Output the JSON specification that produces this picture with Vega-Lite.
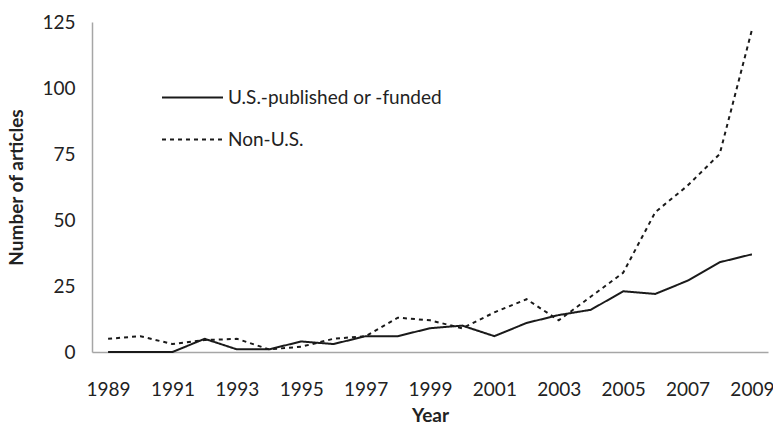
{
  "$schema": "https://vega.github.io/schema/vega-lite/v6.json",
  "autosize": "none",
  "width": 676,
  "height": 330,
  "padding": {"left": 92, "top": 22, "right": 5, "bottom": 72},
  "background": "white",
  "config": {
    "view": {"stroke": null},
    "font": "Lato",
    "axis": {"grid": false, "ticks": false, "domainColor": "#a6a6a6", "domainWidth": 1.5, "labelFont": "Lato", "labelFontSize": 19, "labelColor": "#222", "titleFont": "Lato", "titleFontSize": 19, "titleColor": "#222", "titleFontWeight": "bold"}
  },
  "data": {
    "values": [
      {"year": 1989, "series": "U.S.-published or -funded", "value": 0},
      {"year": 1990, "series": "U.S.-published or -funded", "value": 0},
      {"year": 1991, "series": "U.S.-published or -funded", "value": 0},
      {"year": 1992, "series": "U.S.-published or -funded", "value": 5},
      {"year": 1993, "series": "U.S.-published or -funded", "value": 1},
      {"year": 1994, "series": "U.S.-published or -funded", "value": 1},
      {"year": 1995, "series": "U.S.-published or -funded", "value": 4},
      {"year": 1996, "series": "U.S.-published or -funded", "value": 3},
      {"year": 1997, "series": "U.S.-published or -funded", "value": 6},
      {"year": 1998, "series": "U.S.-published or -funded", "value": 6},
      {"year": 1999, "series": "U.S.-published or -funded", "value": 9},
      {"year": 2000, "series": "U.S.-published or -funded", "value": 10},
      {"year": 2001, "series": "U.S.-published or -funded", "value": 6},
      {"year": 2002, "series": "U.S.-published or -funded", "value": 11},
      {"year": 2003, "series": "U.S.-published or -funded", "value": 14},
      {"year": 2004, "series": "U.S.-published or -funded", "value": 16},
      {"year": 2005, "series": "U.S.-published or -funded", "value": 23},
      {"year": 2006, "series": "U.S.-published or -funded", "value": 22},
      {"year": 2007, "series": "U.S.-published or -funded", "value": 27},
      {"year": 2008, "series": "U.S.-published or -funded", "value": 34},
      {"year": 2009, "series": "U.S.-published or -funded", "value": 37},
      {"year": 1989, "series": "Non-U.S.", "value": 5},
      {"year": 1990, "series": "Non-U.S.", "value": 6},
      {"year": 1991, "series": "Non-U.S.", "value": 3},
      {"year": 1992, "series": "Non-U.S.", "value": 4.5},
      {"year": 1993, "series": "Non-U.S.", "value": 5},
      {"year": 1994, "series": "Non-U.S.", "value": 1},
      {"year": 1995, "series": "Non-U.S.", "value": 2},
      {"year": 1996, "series": "Non-U.S.", "value": 5},
      {"year": 1997, "series": "Non-U.S.", "value": 6},
      {"year": 1998, "series": "Non-U.S.", "value": 13},
      {"year": 1999, "series": "Non-U.S.", "value": 12},
      {"year": 2000, "series": "Non-U.S.", "value": 9},
      {"year": 2001, "series": "Non-U.S.", "value": 15},
      {"year": 2002, "series": "Non-U.S.", "value": 20},
      {"year": 2003, "series": "Non-U.S.", "value": 12},
      {"year": 2004, "series": "Non-U.S.", "value": 21},
      {"year": 2005, "series": "Non-U.S.", "value": 30},
      {"year": 2006, "series": "Non-U.S.", "value": 53},
      {"year": 2007, "series": "Non-U.S.", "value": 63},
      {"year": 2008, "series": "Non-U.S.", "value": 75},
      {"year": 2009, "series": "Non-U.S.", "value": 122}
    ]
  },
  "mark": {"type": "line", "strokeWidth": 2},
  "encoding": {
    "x": {
      "field": "year", "type": "quantitative",
      "scale": {"domain": [1988.5, 2009.5], "nice": false, "zero": false},
      "axis": {"values": [1989, 1991, 1993, 1995, 1997, 1999, 2001, 2003, 2005, 2007, 2009], "format": "d", "labelPadding": 28, "title": "Year", "titlePadding": 7}
    },
    "y": {
      "field": "value", "type": "quantitative",
      "scale": {"domain": [0, 125], "nice": false},
      "axis": {"values": [0, 25, 50, 75, 100, 125], "labelPadding": 17, "title": "Number of articles", "titlePadding": 15}
    },
    "color": {
      "field": "series", "type": "nominal",
      "scale": {"domain": ["U.S.-published or -funded", "Non-U.S."], "range": ["#1a1a1a", "#1a1a1a"]},
      "legend": {
        "orient": "none", "legendX": 69, "legendY": 44, "title": null, "rowPadding": -11,
        "symbolType": "stroke", "symbolSize": 3721, "symbolStrokeWidth": 2,
        "labelFont": "Lato", "labelFontSize": 19, "labelColor": "#222", "labelOffset": 4, "labelLimit": 400
      }
    },
    "strokeDash": {
      "field": "series", "type": "nominal",
      "scale": {"domain": ["U.S.-published or -funded", "Non-U.S."], "range": [[1, 0], [4, 4]]},
      "legend": {
        "orient": "none", "legendX": 69, "legendY": 44, "title": null, "rowPadding": -11,
        "symbolType": "stroke", "symbolSize": 3721, "symbolStrokeWidth": 2,
        "labelFont": "Lato", "labelFontSize": 19, "labelColor": "#222", "labelOffset": 4, "labelLimit": 400
      }
    }
  }
}
